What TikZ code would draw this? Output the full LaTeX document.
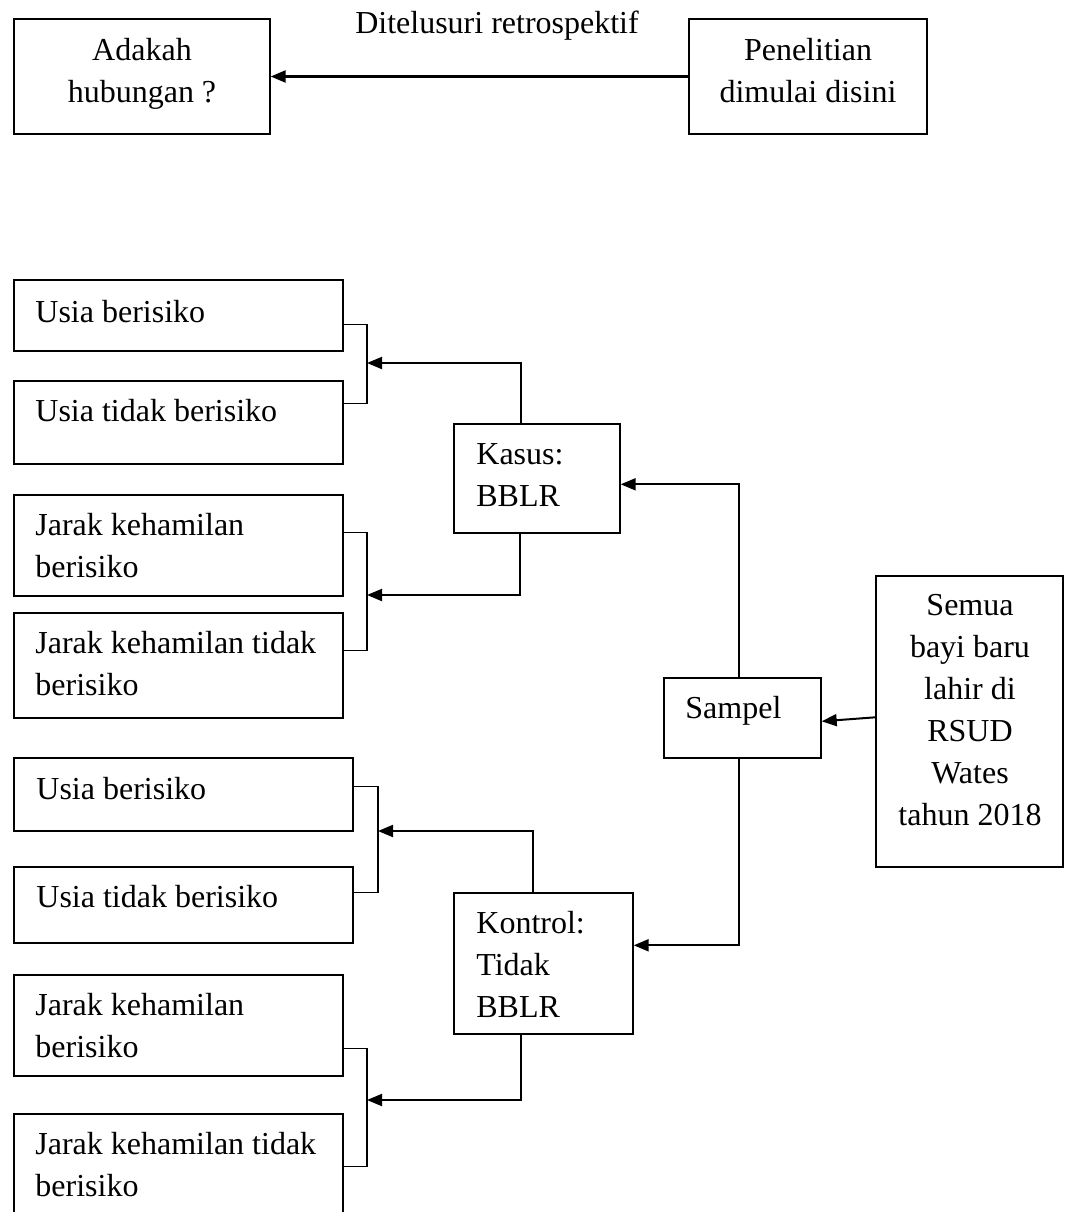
\documentclass[tikz,border=0pt]{standalone}
\usepackage{fontspec}
\setmainfont{Liberation Serif}
\usetikzlibrary{arrows.meta,calc,fit}
\tikzset{
    box/.style={draw,line width=0.7pt,inner sep=0pt},
    txt/.style={inner sep=0pt,align=left,font=\fontsize{16pt}{21pt}\selectfont},
    ctxt/.style={txt,align=center,anchor=north},
    arr/.style={draw,line width=1pt,-{Triangle[length=7.5pt,width=6pt]}},
    wire/.style={draw,line width=0.7pt},
}
\begin{document}
\begin{tikzpicture}[x=0.5pt,y=-0.5pt]
    \useasboundingbox (0,0) rectangle (1067,1212);
    \clip (0,0) rectangle (1067,1212);
    % boxes
    \node[box,fit={(14,19) (270,134)}] (ada) {};
    \node[box,fit={(689,19) (927,134)}] (pen) {};
    \node[box,fit={(14,280) (343,351)}] (ub1) {};
    \node[box,fit={(14,381) (343,464)}] (ut1) {};
    \node[box,fit={(14,495) (343,596)}] (jb1) {};
    \node[box,fit={(14,613) (343,718)}] (jt1) {};
    \node[box,fit={(454,424) (620,533)}] (kas) {};
    \node[box,fit={(664,678) (821,758)}] (smp) {};
    \node[box,fit={(876,576) (1063,867)}] (sem) {};
    \node[box,fit={(14,758) (353,831)}] (ub2) {};
    \node[box,fit={(14,867) (353,943)}] (ut2) {};
    \node[box,fit={(454,893) (633,1034)}] (kon) {};
    \node[box,fit={(14,975) (343,1076)}] (jb2) {};
    \node[box,fit={(14,1114) (343,1240)}] (jt2) {};
    % texts
    \node[ctxt] (adat) at (142,38) {Adakah\\hubungan ?};
    \node[ctxt] (pent) at (808,38) {Penelitian\\dimulai disini};
    \node[txt,anchor=base] (ret) at (497,33) {Ditelusuri retrospektif};
    \node[txt,anchor=north west] (ub1t) at (35,300) {Usia berisiko};
    \node[txt,anchor=north west] (ut1t) at (35,399) {Usia tidak berisiko};
    \node[txt,anchor=north west] (jb1t) at (35,513) {Jarak kehamilan\\berisiko};
    \node[txt,anchor=north west] (jt1t) at (35,631) {Jarak kehamilan tidak\\berisiko};
    \node[txt,anchor=north west] (kast) at (476,443) {Kasus:\\BBLR};
    \node[txt,anchor=north west] (smpt) at (685,696) {Sampel};
    \node[ctxt] (semt) at (970,594) {Semua\\bayi baru\\lahir di\\RSUD\\Wates\\tahun 2018};
    \node[txt,anchor=north west] (ub2t) at (36,777) {Usia berisiko};
    \node[txt,anchor=north west] (ut2t) at (36,885) {Usia tidak berisiko};
    \node[txt,anchor=north west] (kont) at (476,911) {Kontrol:\\Tidak\\BBLR};
    \node[txt,anchor=north west] (jb2t) at (35,993) {Jarak kehamilan\\berisiko};
    \node[txt,anchor=north west] (jt2t) at (35,1132) {Jarak kehamilan tidak\\berisiko};
    % junctions
    \coordinate (j1) at (367,363);
    \coordinate (j2) at (367,595);
    \coordinate (j3) at (378,831);
    \coordinate (j4) at (367,1100);
    % connectors
    \draw[arr,line width=1.2pt] (pen.west) -- (ada.east);
    \draw[wire] ($(ub1.north east)+(0,45)$) -| (j1) |- ($(ut1.north east)+(0,23)$);
    \draw[wire] ($(jb1.north east)+(0,38)$) -| (j2) |- ($(jt1.north east)+(0,38)$);
    \draw[wire] ($(ub2.north east)+(0,29)$) -| (j3) |- ($(ut2.north east)+(0,26)$);
    \draw[wire] ($(jb2.north east)+(0,74)$) -| (j4) |- ($(jt2.north east)+(0,53)$);
    \draw[arr] ($(kas.north west)+(68,0)$) |- (j1);
    \draw[arr] ($(kas.south west)+(67,0)$) |- (j2);
    \draw[arr] ($(kon.north west)+(80,0)$) |- (j3);
    \draw[arr] ($(kon.south west)+(68,0)$) |- (j4);
    \draw[arr] ($(smp.north west)+(76,0)$) |- ($(kas.north east)+(0,61)$);
    \draw[arr] ($(smp.south west)+(76,0)$) |- ($(kon.north east)+(0,53)$);
    \draw[arr] ($(sem.north west)+(0,142)$) -- ($(smp.north east)+(0,44)$);
\end{tikzpicture}
\end{document}
